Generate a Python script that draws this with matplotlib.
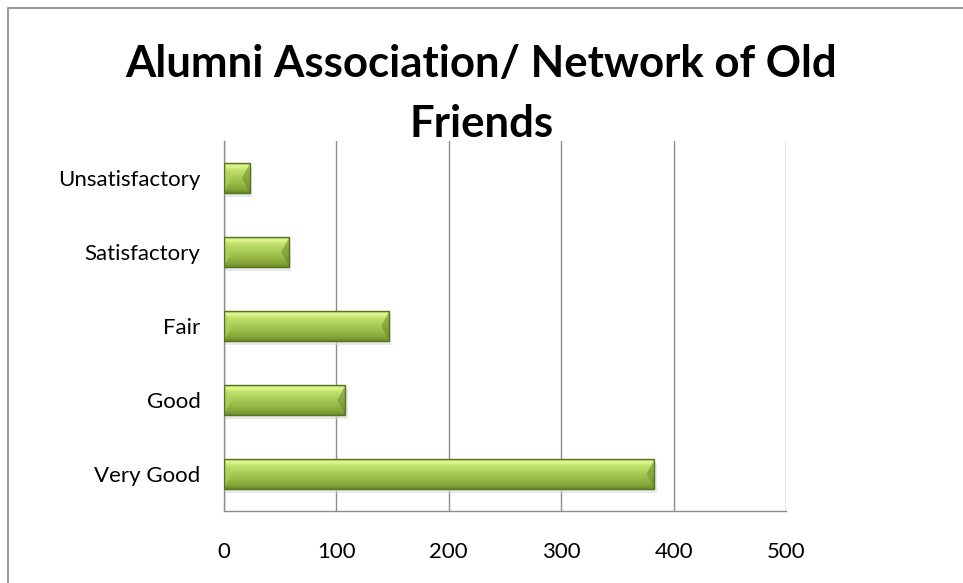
import numpy as np
import matplotlib
matplotlib.use("Agg")
import matplotlib.pyplot as plt
from matplotlib.colors import LinearSegmentedColormap
from matplotlib.patches import Rectangle, Polygon
from matplotlib.lines import Line2D

categories = ["Very Good", "Good", "Fair", "Satisfactory", "Unsatisfactory"]
values = [383, 108, 147, 58, 23]
xticks = [0, 100, 200, 300, 400, 500]
title = "Alumni Association/ Network of Old\nFriends"

plt.rcParams['font.family'] = ['Lato', 'DejaVu Sans']

fig = plt.figure(figsize=(9.63, 5.83), dpi=100)
ax = fig.add_axes([224/963, 1-511/583, (786-224)/963, (511-141)/583])

# outer chart border (only top and left edges visible)
fig.lines.append(Line2D([7.5/963, 7.5/963, 1.0], [0.0, 1 - 7.5/583, 1 - 7.5/583],
                        transform=fig.transFigure, color='#9a9a9a', linewidth=1.5))

cmap = LinearSegmentedColormap.from_list("bevel", [
    (0.0, '#6a8a2a'), (0.08, '#7e9e34'), (0.3, '#97b746'), (0.55, '#aacc58'),
    (0.8, '#c4e470'), (0.9, '#e2fa96'), (1.0, '#b8d86a')])
grad = np.linspace(0, 1, 100).reshape(-1, 1)

h = 0.4
ypos = np.arange(len(categories))
for y, v in zip(ypos, values):
    # shadow
    ax.add_patch(Rectangle((0, y - h/2 - 0.05), v + 2, h, facecolor='#d9d9d9',
                           edgecolor='none', alpha=0.6, zorder=2))
    ax.imshow(grad, extent=(0, v, y - h/2, y + h/2), origin='lower', cmap=cmap,
              aspect='auto', zorder=3, interpolation='bicubic')
    b = 7
    bv = min(b, v/2)
    # bevel end triangles
    ax.add_patch(Polygon([(0, y - h/2), (bv, y), (0, y + h/2)], closed=True,
                         facecolor='#b4d464', edgecolor='none', alpha=0.55, zorder=4))
    ax.add_patch(Polygon([(v, y - h/2), (v - bv, y), (v, y + h/2)], closed=True,
                         facecolor='#5e7d22', edgecolor='none', alpha=0.45, zorder=4))
    ax.add_patch(Rectangle((0, y - h/2), v, h, fill=False, edgecolor='#56731f',
                           linewidth=1.0, zorder=5))

ax.set_xlim(0, 500)
ax.set_ylim(-0.5, len(categories) - 0.5)
ax.set_xticks(xticks)
ax.set_xticklabels([str(t) for t in xticks])
ax.set_yticks(ypos)
ax.set_yticklabels(categories)
ax.xaxis.grid(True, color='#8c8c8c', linewidth=1.0)
ax.set_axisbelow(True)
for s in ['top', 'right']:
    ax.spines[s].set_visible(False)
for s in ['left', 'bottom']:
    ax.spines[s].set_color('#8c8c8c')
    ax.spines[s].set_linewidth(1.0)
ax.tick_params(axis='both', length=0, labelsize=16, colors='black')
ax.tick_params(axis='x', pad=22)
ax.tick_params(axis='y', pad=17)

fig.text(0.5, 1 - 94/583, title, ha='center', va='center', fontsize=31.5,
         fontweight='bold', linespacing=1.58)

fig.savefig("out.png", dpi=100)
